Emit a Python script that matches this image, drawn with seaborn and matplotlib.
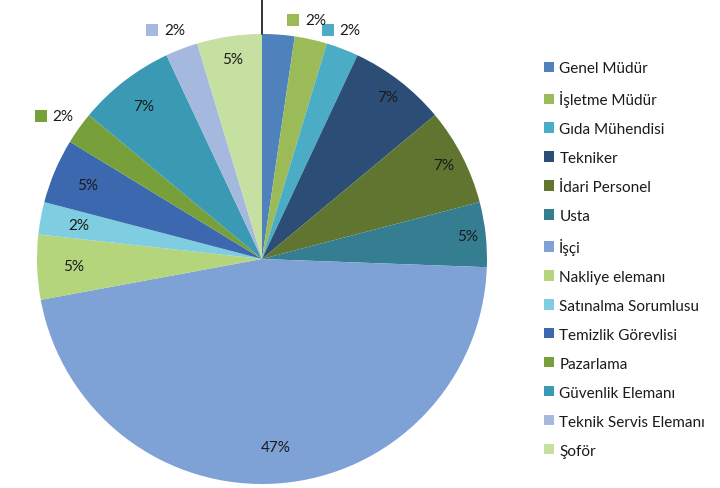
import numpy as np
import matplotlib
matplotlib.use("Agg")
import matplotlib.pyplot as plt
import seaborn as sns
from matplotlib.patches import Patch

categories = ["Genel Müdür", "İşletme Müdür", "Gıda Mühendisi", "Tekniker",
              "İdari Personel", "Usta", "İşçi", "Nakliye elemanı",
              "Satınalma Sorumlusu", "Temizlik Görevlisi", "Pazarlama",
              "Güvenlik Elemanı", "Teknik Servis Elemanı", "Şoför"]
counts = [1, 1, 1, 3, 3, 2, 20, 2, 1, 2, 1, 3, 1, 2]
pct_labels = ["2%", "2%", "2%", "7%", "7%", "5%", "47%", "5%", "2%", "5%", "2%", "7%", "2%", "5%"]
colors = ["#4F81BD", "#9BBB59", "#4BACC6", "#2C4D75", "#5F7530", "#357D91",
          "#7EA1D6", "#B5D57C", "#7FCDE0", "#3C68B0", "#77A03A", "#3A9AB3",
          "#A5B9DE", "#C6E0A1"]
# label placement style: 'in' inside, 'out' outside with key square, 'leader' line only
label_mode = ["leader", "out", "out", "in", "in", "in", "in", "in", "in", "in", "out", "in", "out", "in"]
label_dist = [1.0, 1.09, 1.09, 0.91, 0.91, 0.92, 0.84, 0.84, 0.83, 0.84, 1.09, 0.86, 1.09, 0.90]

sns.set_theme(style="white")
plt.rcParams['font.family'] = ['Lato', 'DejaVu Sans']

fig = plt.figure(figsize=(7.2, 4.89), dpi=100)
ax = fig.add_axes([0, 0, 1, 1])

cx, cy, R = 262, 229, 225
wedges, _ = ax.pie(counts, colors=colors, startangle=90, counterclock=False,
                   center=(cx, cy), radius=R, frame=True,
                   wedgeprops=dict(linewidth=0))
ax.set_xlim(0, 720)
ax.set_ylim(0, 489)
ax.set_aspect('equal')
ax.axis('off')

txtcol = "#1a1a1a"
for w, lab, mode, d, col in zip(wedges, pct_labels, label_mode, label_dist, colors):
    ang = np.deg2rad((w.theta1 + w.theta2) / 2)
    if mode == "in":
        ax.text(cx + d * R * np.cos(ang), cy + d * R * np.sin(ang), lab,
                ha='center', va='center', fontsize=11, color=txtcol)
    elif mode == "out":
        x = cx + d * R * np.cos(ang)
        y = cy + d * R * np.sin(ang)
        ax.text(x, y, lab, ha='center', va='center', fontsize=11, color=txtcol)
        ax.scatter([x - 22], [y], marker='s', s=70, color=col, linewidths=0)
    elif mode == "leader":
        ax.plot([cx, cx], [cy + R, 489], color="#222222", lw=1.3)

handles = [Patch(facecolor=c, edgecolor='none') for c in colors]
leg = fig.legend(handles, categories, loc='upper left',
                 bbox_to_anchor=(544 / 720, (489 - 62) / 489), frameon=False,
                 fontsize=11, handlelength=0.65, handleheight=0.65,
                 handletextpad=0.35, labelspacing=0.98, borderpad=0,
                 borderaxespad=0)
for t in leg.get_texts():
    t.set_color(txtcol)

fig.savefig("out.png", dpi=100, facecolor="white")
